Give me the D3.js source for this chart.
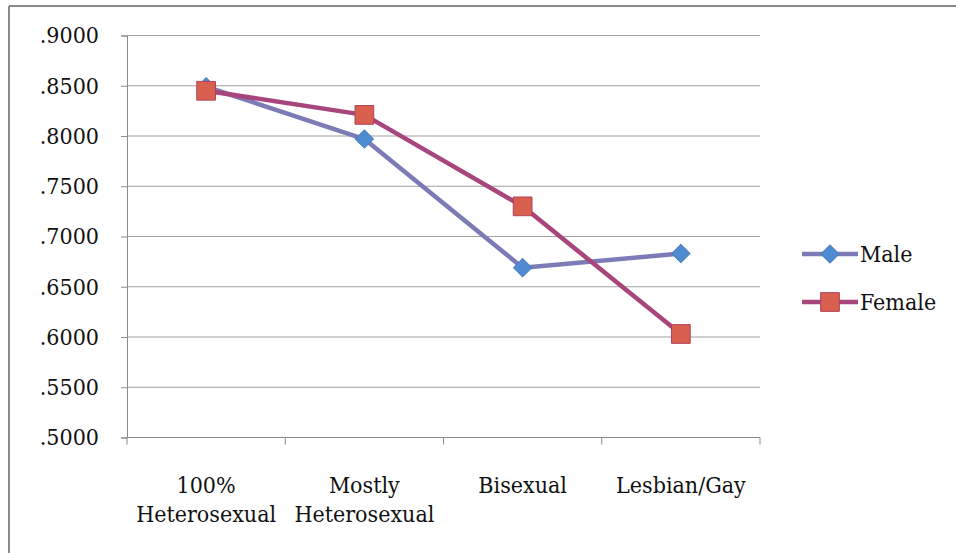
<!DOCTYPE html>
<html>
<head>
<meta charset="utf-8">
<script src="https://cdn.jsdelivr.net/npm/d3@7"></script>
<style>
  body { margin: 0; background: #fff; }
  svg text { font-family: "DejaVu Serif Condensed", "DejaVu Serif", serif; font-stretch: condensed; fill: #111; }
</style>
</head>
<body>
<svg id="chart" width="956" height="553"></svg>
<script>
const categories = [["100%", "Heterosexual"], ["Mostly", "Heterosexual"], ["Bisexual"], ["Lesbian/Gay"]];
const maleValues = [0.849, 0.797, 0.669, 0.683];
const femaleValues = [0.845, 0.821, 0.730, 0.603];
const yTicks = [0.5, 0.55, 0.6, 0.65, 0.7, 0.75, 0.8, 0.85, 0.9];

const svg = d3.select("#chart");
const fontSize = 23;

// outer frame (only top and left edges visible)
svg.append("line").attr("x1", 9).attr("x2", 956).attr("y1", 6).attr("y2", 6)
  .attr("stroke", "#8a8a8a").attr("stroke-width", 2);
svg.append("line").attr("x1", 9).attr("x2", 9).attr("y1", 6).attr("y2", 553)
  .attr("stroke", "#8a8a8a").attr("stroke-width", 2);

const x = d3.scaleBand()
  .domain(categories.map((d, i) => i))
  .range([127, 760]);

const y = d3.scaleLinear()
  .domain([0.5, 0.9])
  .range([437.5, 35.5]);

// gridlines
svg.append("g")
  .selectAll("line")
  .data(yTicks.slice(1))
  .enter().append("line")
  .attr("x1", 127).attr("x2", 760)
  .attr("y1", d => y(d)).attr("y2", d => y(d))
  .attr("stroke", "#a0a0a0").attr("stroke-width", 1.2);

// y axis
const yAxis = svg.append("g")
  .attr("transform", "translate(127,0)")
  .call(d3.axisLeft(y).tickValues(yTicks).tickSize(6).tickPadding(22)
    .tickFormat(d => d3.format(".4f")(d).replace(/^0/, "")));
yAxis.select(".domain").attr("stroke", "#8a8a8a");
yAxis.selectAll(".tick line").attr("stroke", "#8a8a8a");
yAxis.selectAll("text").style("font-size", fontSize + "px").attr("fill", "#111");

// x axis
const xAxis = svg.append("g")
  .attr("transform", "translate(0,437.5)");
xAxis.append("line").attr("x1", 127).attr("x2", 760).attr("y1", 0).attr("y2", 0)
  .attr("stroke", "#8a8a8a");
xAxis.selectAll(".xt")
  .data(d3.range(categories.length + 1))
  .enter().append("line")
  .attr("x1", i => 127 + i * x.step()).attr("x2", i => 127 + i * x.step())
  .attr("y1", 0).attr("y2", 7)
  .attr("stroke", "#8a8a8a");
xAxis.selectAll(".xl")
  .data(categories)
  .enter().append("text")
  .attr("text-anchor", "middle")
  .attr("x", (d, i) => x(i) + x.bandwidth() / 2)
  .style("font-size", fontSize + "px")
  .each(function (d) {
    d.forEach((t, j) => {
      d3.select(this).append("tspan")
        .attr("x", d3.select(this).attr("x"))
        .attr("y", 55 + j * 29)
        .text(t);
    });
  });

const cx = i => x(i) + x.bandwidth() / 2;
const line = d3.line().x((d, i) => cx(i)).y(d => y(d));

const series = [
  { name: "Male", values: maleValues, stroke: "#7c7bb6", fill: "#4f8bd0", edge: "#4a7fc0", rot: 45, size: 165 },
  { name: "Female", values: femaleValues, stroke: "#a8457c", fill: "#d9604f", edge: "#b0405a", rot: 0, size: 350 }
];

series.forEach(s => {
  svg.append("path")
    .datum(s.values)
    .attr("d", line)
    .attr("fill", "none")
    .attr("stroke", s.stroke)
    .attr("stroke-width", 4.5)
    .attr("stroke-linejoin", "round");
  svg.append("g").selectAll("path")
    .data(s.values)
    .enter().append("path")
    .attr("transform", (d, i) => `translate(${cx(i)},${y(d)}) rotate(${s.rot})`)
    .attr("d", d3.symbol().type(d3.symbolSquare).size(s.size))
    .attr("fill", s.fill)
    .attr("stroke", s.edge)
    .attr("stroke-width", 1);
});

// legend
const legend = svg.append("g");
series.forEach((s, i) => {
  const ly = 254 + i * 48;
  legend.append("line").attr("x1", 802).attr("x2", 858).attr("y1", ly).attr("y2", ly)
    .attr("stroke", s.stroke).attr("stroke-width", 4.5);
  legend.append("path")
    .attr("transform", `translate(830,${ly}) rotate(${s.rot})`)
    .attr("d", d3.symbol().type(d3.symbolSquare).size(s.size))
    .attr("fill", s.fill).attr("stroke", s.edge).attr("stroke-width", 1);
  legend.append("text")
    .attr("x", 860).attr("y", ly + 8)
    .style("font-size", fontSize + "px")
    .text(s.name);
});
</script>
</body>
</html>
